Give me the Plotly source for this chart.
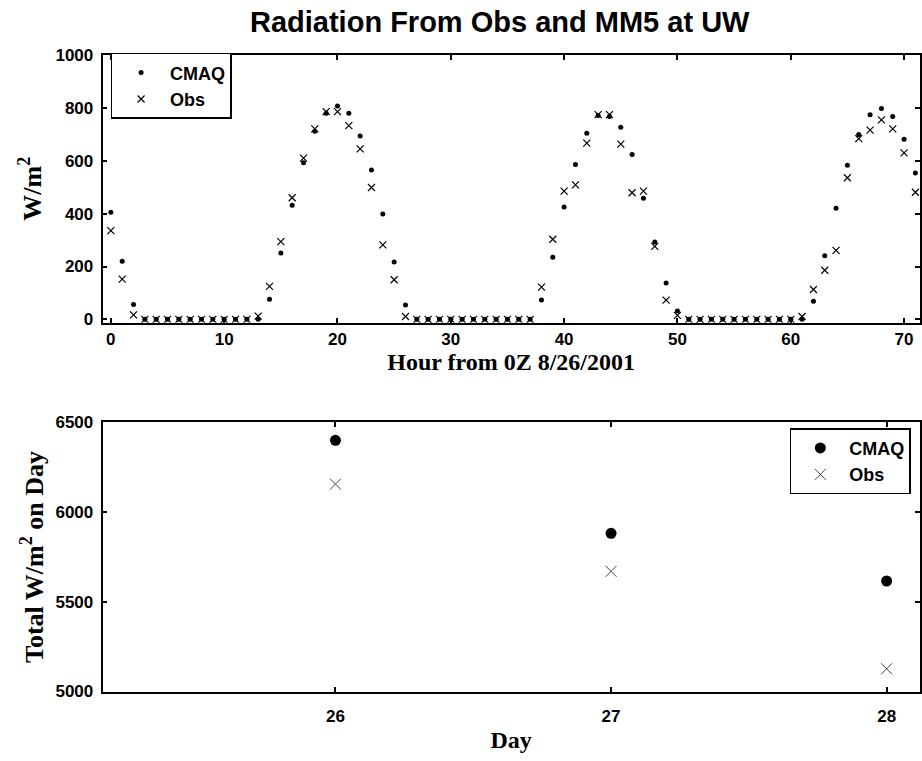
import plotly.graph_objects as go

# Hourly shortwave radiation (W/m^2), hours from 0Z 8/26/2001
hours = list(range(72))
cmaq_hourly = [
    405, 220, 56, 0, 0, 0, 0, 0, 0, 0, 0, 0, 0, 0,
    76, 251, 432, 593, 712, 780, 807, 780, 694, 565, 399, 217, 54,
    0, 0, 0, 0, 0, 0, 0, 0, 0, 0, 0,
    73, 235, 425, 586, 704, 771, 768, 727, 624, 458, 293, 138, 32,
    0, 0, 0, 0, 0, 0, 0, 0, 0, 0, 0,
    69, 241, 420, 583, 700, 774, 798, 768, 682, 554,
]
obs_hourly = [
    336, 152, 17, 0, 0, 0, 0, 0, 0, 0, 0, 0, 0, 12,
    125, 294, 460, 610, 721, 786, 786, 733, 645, 499, 282, 150, 11,
    0, 0, 0, 0, 0, 0, 0, 0, 0, 0, 0,
    122, 303, 485, 509, 667, 775, 775, 663, 479, 485, 276, 73, 15,
    0, 0, 0, 0, 0, 0, 0, 0, 0, 0, 11,
    113, 186, 261, 536, 684, 716, 755, 721, 630, 481,
]

# Daily totals
days = [26, 27, 28]
cmaq_daily = [6400, 5882, 5616]
obs_daily = [6156, 5670, 5127]

hour_ticks = [0, 10, 20, 30, 40, 50, 60, 70]
rad_ticks = [0, 200, 400, 600, 800, 1000]
day_ticks = [26, 27, 28]
total_ticks = [5000, 5500, 6000, 6500]

W, H = 922, 761
SANS = "Liberation Sans"
SERIF = "Liberation Serif"

fig = go.Figure()

fig.add_trace(go.Scatter(
    x=hours, y=cmaq_hourly, mode="markers", name="CMAQ",
    marker=dict(symbol="circle", size=5, color="black"),
    xaxis="x", yaxis="y", legend="legend", legendgroup="a",
))
fig.add_trace(go.Scatter(
    x=hours, y=obs_hourly, mode="markers", name="Obs",
    marker=dict(symbol="x-thin", size=7, line=dict(width=1.2, color="black")),
    xaxis="x", yaxis="y", legend="legend", legendgroup="b",
))
fig.add_trace(go.Scatter(
    x=days, y=cmaq_daily, mode="markers", name="CMAQ",
    marker=dict(symbol="circle", size=11, color="black"),
    xaxis="x2", yaxis="y2", legend="legend2", legendgroup="c",
))
fig.add_trace(go.Scatter(
    x=days, y=obs_daily, mode="markers", name="Obs",
    marker=dict(symbol="x-thin", size=11, line=dict(width=1, color="#444")),
    xaxis="x2", yaxis="y2", legend="legend2", legendgroup="d",
))

tickfont = dict(family=SANS, size=17, color="black", weight="bold")
xtitlefont = dict(family=SERIF, size=24, color="black", weight="bold")
ytitlefont = dict(family=SERIF, size=26, color="black", weight="bold")
legendfont = dict(family=SANS, size=18, color="black", weight="bold")


def axis_style(**kw):
    base = dict(
        showline=True, linecolor="black", linewidth=1.8, mirror="ticks",
        ticks="inside", ticklen=5, tickwidth=1.5, tickcolor="black",
        showgrid=False, zeroline=False, tickfont=tickfont,
    )
    base.update(kw)
    return base


x0, x1 = 102.7 / W, 920.7 / W

fig.update_layout(
    width=W, height=H,
    margin=dict(l=0, r=0, t=0, b=0),
    paper_bgcolor="white", plot_bgcolor="white",
    title=dict(
        text="Radiation From Obs and MM5 at UW",
        font=dict(family=SANS, size=29, color="black", weight="bold"),
        x=0.542, xanchor="center", y=1 - 22 / H, yanchor="middle",
    ),
    xaxis=axis_style(
        domain=[x0, x1], range=[-0.73, 71.38], anchor="y",
        tickvals=hour_ticks,
        title=dict(text="Hour from 0Z 8/26/2001", font=xtitlefont, standoff=0),
    ),
    yaxis=axis_style(
        domain=[1 - 321.7 / H, 1 - 47 / H], range=[-12.5, 1001], anchor="x",
        tickvals=rad_ticks, ticklabelstandoff=4,
        title=dict(text="W/m<sup>2</sup>", font=ytitlefont, standoff=6),
    ),
    xaxis2=axis_style(
        domain=[x0, x1], range=[25.155, 28.12], anchor="y2",
        tickvals=day_ticks, ticklabelstandoff=8,
        title=dict(text="Day", font=xtitlefont, standoff=6),
    ),
    yaxis2=axis_style(
        domain=[1 - 700 / H, 1 - 424 / H], range=[5000, 6500], anchor="x2",
        tickvals=total_ticks, ticklabelstandoff=4,
        title=dict(text="Total W/m<sup>2</sup> on Day", font=ytitlefont, standoff=4),
    ),
    legend=dict(
        x=110.7 / W, y=1 - 45 / H, xanchor="left", yanchor="top",
        bgcolor="white", bordercolor="black", borderwidth=1.5,
        font=legendfont, itemwidth=48, tracegroupgap=0,
    ),
    legend2=dict(
        x=790.7 / W, y=1 - 430 / H, xanchor="left", yanchor="top",
        bgcolor="white", bordercolor="black", borderwidth=1.5,
        font=legendfont, itemwidth=48, tracegroupgap=0,
    ),
    showlegend=True,
)

fig.write_html("out.html")
